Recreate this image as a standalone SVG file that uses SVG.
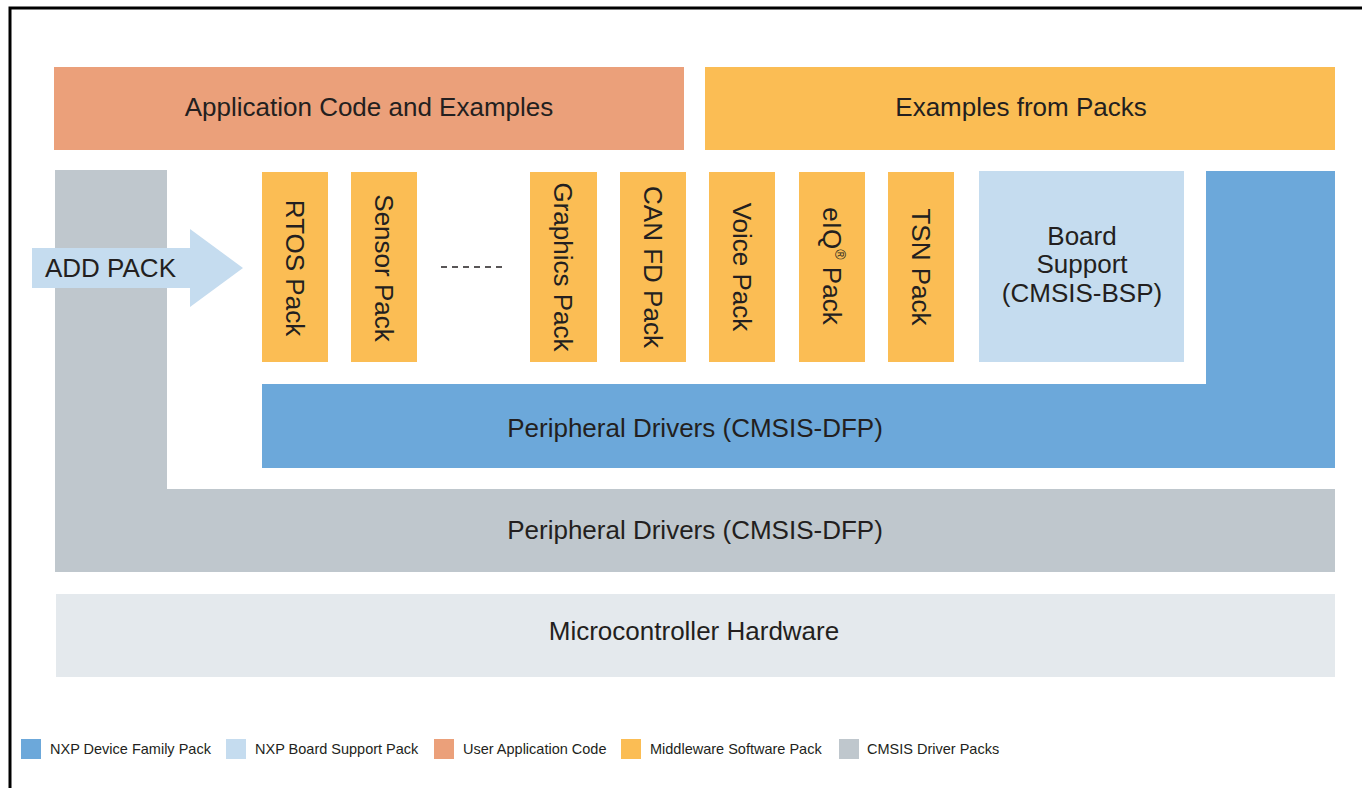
<svg xmlns="http://www.w3.org/2000/svg" width="1362" height="788" viewBox="0 0 1362 788">
<style>
text{font-family:"Liberation Sans",Arial,Helvetica,sans-serif;fill:#231F20}
.big{font-size:26px}
.c{text-anchor:middle;dominant-baseline:central}
.leg{font-size:14.5px;dominant-baseline:central}
.orange{fill:#FBBD54}
.app{fill:#EBA07A}
.blue{fill:#6CA8DA}
.lblue{fill:#C5DCEF}
.grey{fill:#BFC7CD}
.hw{fill:#E4E9ED}
</style>
<rect width="1362" height="788" fill="#fff"/>
<path d="M10,788 V8 H1362" fill="none" stroke="#000" stroke-width="3"/>

<g id="app-code"><rect class="app" x="54" y="67" width="630" height="83"/><text class="big c" x="369" y="107">Application Code and Examples</text></g>
<g id="examples-packs"><rect class="orange" x="705" y="67" width="630" height="83"/><text class="big c" x="1021" y="107">Examples from Packs</text></g>

<g id="cmsis-driver"><path class="grey" d="M55,170 H167 V489 H1335 V572 H55 Z"/><text class="big c" x="695" y="530">Peripheral Drivers (CMSIS-DFP)</text></g>
<g id="device-family"><path class="blue" d="M262,384 H1206 V171 H1335 V468 H262 Z"/><text class="big c" x="695" y="428">Peripheral Drivers (CMSIS-DFP)</text></g>
<g id="hardware"><rect class="hw" x="56" y="594" width="1279" height="83"/><text class="big c" x="694" y="631">Microcontroller Hardware</text></g>

<g id="rtos"><rect class="orange" x="262" y="172" width="66" height="190"/><text class="big c" transform="translate(295,268) rotate(90)">RTOS Pack</text></g>
<g id="sensor"><rect class="orange" x="351" y="172" width="66" height="190"/><text class="big c" transform="translate(384,268) rotate(90)">Sensor Pack</text></g>
<g id="ellipsis"><line x1="441" y1="267" x2="505" y2="267" stroke="#231F20" stroke-width="1.3" stroke-dasharray="6,5"/></g>
<g id="graphics"><rect class="orange" x="530" y="172" width="67" height="190"/><text class="big c" transform="translate(563,267) rotate(90)">Graphics Pack</text></g>
<g id="canfd"><rect class="orange" x="620" y="172" width="66" height="190"/><text class="big c" transform="translate(653,267) rotate(90)">CAN FD Pack</text></g>
<g id="voice"><rect class="orange" x="709" y="172" width="66" height="190"/><text class="big c" transform="translate(742,267) rotate(90)">Voice Pack</text></g>
<g id="eiq"><rect class="orange" x="799" y="172" width="66" height="190"/><text class="big c" transform="translate(832,266) rotate(90)">eIQ<tspan font-size="14" dy="-8">®</tspan><tspan dy="8"> Pack</tspan></text></g>
<g id="tsn"><rect class="orange" x="888" y="172" width="66" height="190"/><text class="big c" transform="translate(921,267) rotate(90)">TSN Pack</text></g>
<g id="bsp"><rect class="lblue" x="979" y="171" width="205" height="191"/>
<text class="big c" x="1082" y="236">Board</text><text class="big c" x="1082" y="264">Support</text><text class="big c" x="1082" y="293">(CMSIS-BSP)</text></g>

<g id="connectors"><g id="add-pack"><path class="lblue" d="M32,248 H190 V229 L243,268 L190,307 V288 H32 Z"/><text class="big" x="45" y="268" style="dominant-baseline:central">ADD PACK</text></g></g>

<g id="legend">
<rect class="blue" x="21" y="739" width="20" height="20"/><text class="leg" x="50" y="749">NXP Device Family Pack</text>
<rect class="lblue" x="226" y="739" width="20" height="20"/><text class="leg" x="255" y="749">NXP Board Support Pack</text>
<rect class="app" x="434" y="739" width="20" height="20"/><text class="leg" x="463" y="749">User Application Code</text>
<rect class="orange" x="621" y="739" width="20" height="20"/><text class="leg" x="650" y="749">Middleware Software Pack</text>
<rect class="grey" x="839" y="739" width="20" height="20"/><text class="leg" x="867" y="749">CMSIS Driver Packs</text>
</g>
</svg>
